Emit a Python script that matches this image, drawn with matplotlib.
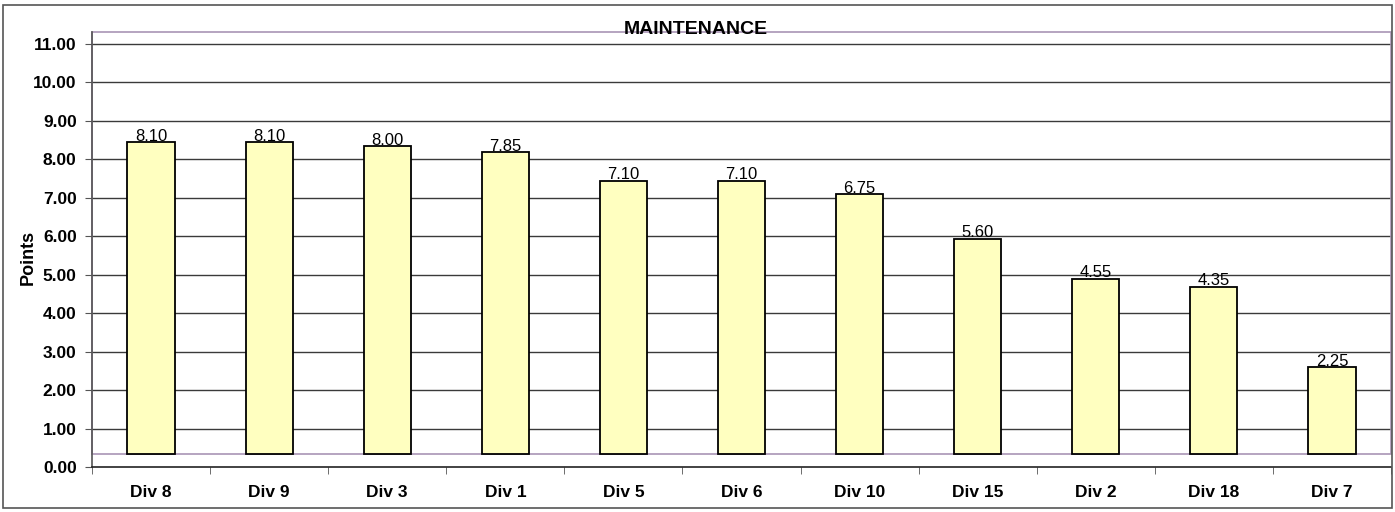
import matplotlib
matplotlib.use("Agg")
import matplotlib.pyplot as plt
from matplotlib.patches import Rectangle

categories = ["Div 8", "Div 9", "Div 3", "Div 1", "Div 5", "Div 6", "Div 10", "Div 15", "Div 2", "Div 18", "Div 7"]
values = [8.10, 8.10, 8.00, 7.85, 7.10, 7.10, 6.75, 5.60, 4.55, 4.35, 2.25]
yticks = [0, 1, 2, 3, 4, 5, 6, 7, 8, 9, 10, 11]
base = 0.34

plt.rcParams['font.family'] = ['Liberation Sans', 'DejaVu Sans']

W, H = 1395, 512
fig = plt.figure(figsize=(W / 100, H / 100), dpi=100)
fig.patch.set_facecolor('white')
fig.add_artist(Rectangle((3 / W, 4 / H), 1389 / W, 503 / H, transform=fig.transFigure,
                         fill=False, edgecolor='#555555', linewidth=1.2))

ax = fig.add_axes([92 / W, 45 / H, (1391 - 92) / W, (467 - 32) / H])
ax.set_xlim(-0.5, len(categories) - 0.5)
ax.set_ylim(0, 11.31)

for y in yticks[1:]:
    ax.axhline(y, color='#3a3a3a', linewidth=1.0, zorder=1)

# plot area border (purple)
ax.add_patch(Rectangle((-0.5, base), len(categories), 11.31 - base, fill=False,
                       edgecolor='#a995b5', linewidth=1.2, zorder=1.5, clip_on=False))

x = list(range(len(categories)))
ax.bar(x, values, bottom=base, width=0.4, color='#ffffc0', edgecolor='black', linewidth=1.3, zorder=2)
for xi, v in zip(x, values):
    ax.text(xi, v + base - 0.04, f"{v:.2f}", ha='center', va='bottom', fontsize=12,
            fontweight='medium', zorder=3)

for s in ['top', 'right']:
    ax.spines[s].set_visible(False)
ax.spines['left'].set_color('#555555')
ax.spines['bottom'].set_color('#222222')
ax.spines['left'].set_linewidth(1.2)
ax.spines['bottom'].set_linewidth(1.2)

ax.set_yticks(yticks)
ax.set_yticklabels([f"{v:.2f}" for v in yticks], fontsize=12.5, fontweight='bold')
ax.set_xticks(x)
ax.set_xticklabels(categories, fontsize=12.5, fontweight='bold')
ax.set_xticks([i - 0.5 for i in range(len(categories) + 1)], minor=True)
ax.tick_params(axis='x', which='major', length=0, pad=13)
ax.tick_params(axis='x', which='minor', length=5, color='#555555', direction='out')
ax.tick_params(axis='y', length=5, color='#555555', pad=6)
ax.set_ylabel("Points", fontsize=13, fontweight='bold')
ax.yaxis.set_label_coords((37 - 92) / 1299, (467 - 257) / 435)

fig.text(696 / W, 1 - 30 / H, "MAINTENANCE", ha='center', va='center', fontsize=14, fontweight='bold')

fig.savefig("out.png", dpi=100)
